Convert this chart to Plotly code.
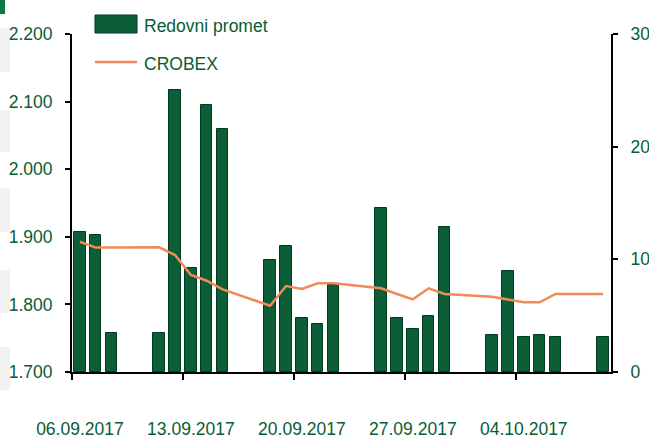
import plotly.graph_objects as go
import pandas as pd

dates = ["2017-09-06", "2017-09-07", "2017-09-08", "2017-09-11", "2017-09-12",
         "2017-09-13", "2017-09-14", "2017-09-15", "2017-09-18", "2017-09-19",
         "2017-09-20", "2017-09-21", "2017-09-22", "2017-09-25", "2017-09-26",
         "2017-09-27", "2017-09-28", "2017-09-29", "2017-10-02", "2017-10-03",
         "2017-10-04", "2017-10-05", "2017-10-06", "2017-10-09"]
turnover = [12.4, 12.2, 3.5, 3.5, 25.0, 9.2, 23.7, 21.6, 9.9, 11.2, 4.8, 4.3,
            7.7, 14.6, 4.8, 3.8, 5.0, 12.9, 3.3, 9.0, 3.1, 3.3, 3.1, 3.1]
crobex = [1.8927, 1.884, 1.884, 1.8845, 1.873, 1.8435, 1.835, 1.8223, 1.798,
          1.8272, 1.8228, 1.8312, 1.8312, 1.8238, 1.8154, 1.8075, 1.8238,
          1.8154, 1.8114, 1.8070, 1.8031, 1.8031, 1.8154, 1.8154]
tick_dates = ["2017-09-06", "2017-09-13", "2017-09-20", "2017-09-27", "2017-10-04"]
tick_labels = ["06.09.2017", "13.09.2017", "20.09.2017", "27.09.2017", "04.10.2017"]
left_ticks = [1.7, 1.8, 1.9, 2.0, 2.1, 2.2]
left_labels = ["1.700", "1.800", "1.900", "2.000", "2.100", "2.200"]
right_ticks = [0, 10, 20, 30]

GREEN_TXT = "#0a5c34"
BAR = "#0c5e37"
BAR_EDGE = "#003b1e"
LINE = "#ef8a5c"
FONT = "Liberation Sans, Arial, sans-serif"
FS = 17.5

x_mid = pd.to_datetime(dates) + pd.Timedelta(hours=12)
tick_mid = pd.to_datetime(tick_dates) + pd.Timedelta(hours=12)
tick_edge = pd.to_datetime(tick_dates)

fig = go.Figure()
fig.add_trace(go.Bar(
    x=x_mid, y=turnover, name="Redovni promet", yaxis="y",
    width=0.72 * 86400000,
    marker=dict(color=BAR, line=dict(color=BAR_EDGE, width=1)),
    showlegend=False,
))
fig.add_trace(go.Scatter(
    x=x_mid, y=crobex, name="CROBEX", yaxis="y2", mode="lines",
    line=dict(color=LINE, width=2.5),
    showlegend=False,
))

W, H = 649, 440
L, R, T, B = 72, 38, 34, 68
pw, ph = W - L - R, H - T - B


def px(x):
    return (x - L) / pw


def py(y):
    return (H - B - y) / ph


shapes = []
# legend swatches
shapes.append(dict(type="rect", xref="paper", yref="paper",
                   x0=px(95), x1=px(137), y0=py(33), y1=py(15),
                   fillcolor=BAR, line=dict(color=BAR_EDGE, width=1)))
shapes.append(dict(type="line", xref="paper", yref="paper",
                   x0=px(95), x1=px(137), y0=py(62), y1=py(62),
                   line=dict(color=LINE, width=2.5)))
# edge decorations of the cropped source
for y0, y1 in [(28, 72), (110, 152), (188, 232), (270, 313), (347, 390)]:
    shapes.append(dict(type="rect", xref="paper", yref="paper", layer="below",
                       x0=px(0), x1=px(10), y0=py(y1), y1=py(y0),
                       fillcolor="#f2f2f2", line=dict(width=0)))
shapes.append(dict(type="rect", xref="paper", yref="paper",
                   x0=px(0), x1=px(5), y0=py(14), y1=py(0),
                   fillcolor="#0a7a40", line=dict(width=0)))

annotations = [
    dict(text="Redovni promet", xref="paper", yref="paper", x=px(142), y=py(26),
         xanchor="left", yanchor="middle", showarrow=False,
         font=dict(family=FONT, size=FS, color=GREEN_TXT)),
    dict(text="CROBEX", xref="paper", yref="paper", x=px(142), y=py(64),
         xanchor="left", yanchor="middle", showarrow=False,
         font=dict(family=FONT, size=FS, color=GREEN_TXT)),
]

fig.update_layout(
    width=W, height=H,
    margin=dict(l=L, r=R, t=T, b=B, pad=0),
    paper_bgcolor="white", plot_bgcolor="white",
    font=dict(family=FONT, size=FS, color=GREEN_TXT),
    shapes=shapes, annotations=annotations,
    xaxis=dict(
        type="date", range=["2017-09-06", "2017-10-10"],
        tickmode="array", tickvals=tick_mid, ticktext=tick_labels,
        ticks="", showgrid=False, zeroline=False, tickangle=0,
        automargin=False,
        showline=True, linecolor="black", linewidth=2,
        ticklabelstandoff=40,
        tickfont=dict(family=FONT, size=FS, color=GREEN_TXT),
        minor=dict(tickmode="array", tickvals=tick_edge, ticks="outside",
                   ticklen=6, tickwidth=2, tickcolor="black", showgrid=False),
    ),
    yaxis=dict(
        side="right", range=[0, 30], tickmode="array", tickvals=right_ticks,
        ticks="outside", ticklen=5, tickwidth=2, tickcolor="black",
        showline=True, linecolor="black", linewidth=2, automargin=False,
        showgrid=False, zeroline=False, ticklabelstandoff=9,
        tickfont=dict(family=FONT, size=FS, color=GREEN_TXT),
    ),
    yaxis2=dict(
        overlaying="y", side="left", range=[1.7, 2.2], tickmode="array",
        tickvals=left_ticks, ticktext=left_labels,
        ticks="outside", ticklen=5, tickwidth=2, tickcolor="black",
        showline=True, linecolor="black", linewidth=2, automargin=False,
        showgrid=False, zeroline=False, ticklabelstandoff=9,
        tickfont=dict(family=FONT, size=FS, color=GREEN_TXT),
    ),
    bargap=0,
)

fig.write_html("out.html", config={"displayModeBar": False})

# remove default page margin so the figure fills the window exactly
with open("out.html", "r", encoding="utf-8") as f:
    html = f.read()
html = html.replace("<head>", "<head><style>html,body{margin:0;padding:0;overflow:hidden}</style>", 1)
with open("out.html", "w", encoding="utf-8") as f:
    f.write(html)
